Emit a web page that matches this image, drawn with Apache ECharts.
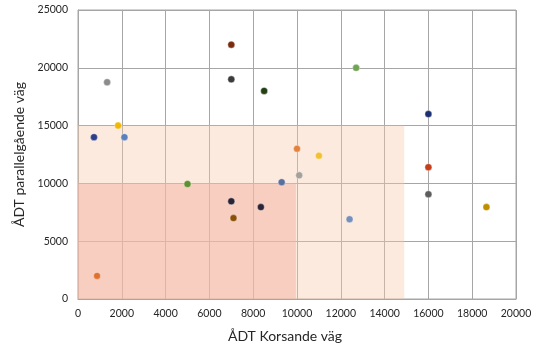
<!DOCTYPE html>
<html>
<head>
<meta charset="utf-8">
<script src="https://cdn.jsdelivr.net/npm/echarts@6/dist/echarts.min.js"></script>
<style>
  html, body { margin: 0; padding: 0; background: #fff; }
  #chart { width: 545px; height: 350px; }
</style>
</head>
<body>
<div id="chart"></div>
<script>
// ÅDT korsande väg (x) och parallellgående väg (y)
const xValues = [7000, 1330, 7000, 8500, 1830, 730, 2120, 10000, 12700, 16000, 11000,
                 5000, 7000, 7100, 8350, 9300, 10100, 870, 16000, 16000, 18650, 12400];
const yValues = [22000, 18750, 19000, 18000, 15000, 14000, 14000, 13000, 20000, 16000, 12400,
                 9950, 8450, 7000, 7950, 10100, 10700, 2000, 11400, 9060, 7950, 6900];
const pointColors = ['#7b2c0f', '#8c8c8c', '#3b3b3b', '#233f14', '#f2b705', '#2e3f8a', '#5a80bd',
                     '#e3823f', '#6fa552', '#1c2f73', '#f2c132', '#5f8f2f', '#2b2333', '#8a5007',
                     '#2d2537', '#5b6f9f', '#a5a09a', '#e0722f', '#c43e1c', '#5d5d5d', '#bf8f00', '#7690bb'];

// zoner: [xmax, ymax]
const lightZone = [14900, 15000];
const darkZone = [9950, 10000];

const xTicks = { min: 0, max: 20000, interval: 2000 };
const yTicks = { min: 0, max: 25000, interval: 5000 };

let myChart = echarts.init(document.getElementById('chart'));

let points = xValues.map(function (x, i) {
    return {
        value: [x, yValues[i]],
        itemStyle: { color: pointColors[i] }
    };
});

const font = 'Lato, "Open Sans", sans-serif';
// utan tusentalsavgränsare
const plain = function (v) { return String(v); };

myChart.setOption({
    animation: false,
    grid: {
        left: 78,
        right: 29,
        top: 10,
        bottom: 51,
        show: true,
        borderColor: '#a6a6a6',
        borderWidth: 1
    },
    xAxis: {
        type: 'value',
        min: xTicks.min,
        max: xTicks.max,
        interval: xTicks.interval,
        name: 'ÅDT Korsande väg',
        nameLocation: 'middle',
        nameGap: 30,
        nameTextStyle: { fontSize: 14, color: '#262626', fontFamily: font, padding: [0, 24, 0, 0] },
        axisLine: { show: true, lineStyle: { color: '#a6a6a6' } },
        axisTick: { show: false },
        axisLabel: { fontSize: 10.5, color: '#262626', fontFamily: font, margin: 9, formatter: plain },
        splitLine: { show: true, lineStyle: { color: '#a6a6a6' } }
    },
    yAxis: {
        type: 'value',
        min: yTicks.min,
        max: yTicks.max,
        interval: yTicks.interval,
        name: 'ÅDT parallelgående väg',
        nameLocation: 'middle',
        nameGap: 50,
        nameRotate: 90,
        nameTextStyle: { fontSize: 14, color: '#262626', fontFamily: font },
        axisLine: { show: true, lineStyle: { color: '#a6a6a6' } },
        axisTick: { show: false },
        axisLabel: { fontSize: 10.5, color: '#262626', fontFamily: font, margin: 10, formatter: plain },
        splitLine: { show: true, lineStyle: { color: '#a6a6a6' } }
    },
    series: [{
        type: 'scatter',
        symbolSize: 7,
        data: points,
        itemStyle: { opacity: 1, borderColor: 'rgba(255,255,255,0.6)', borderWidth: 0.6 },
        markArea: {
            silent: true,
            data: [
                [
                    { coord: [0, 0], itemStyle: { color: 'rgba(248,203,173,0.4)' } },
                    { coord: lightZone }
                ],
                [
                    { coord: [0, 0], itemStyle: { color: 'rgba(246,180,166,0.5)' } },
                    { coord: darkZone }
                ]
            ]
        },
        z: 3
    }]
});
</script>
</body>
</html>
